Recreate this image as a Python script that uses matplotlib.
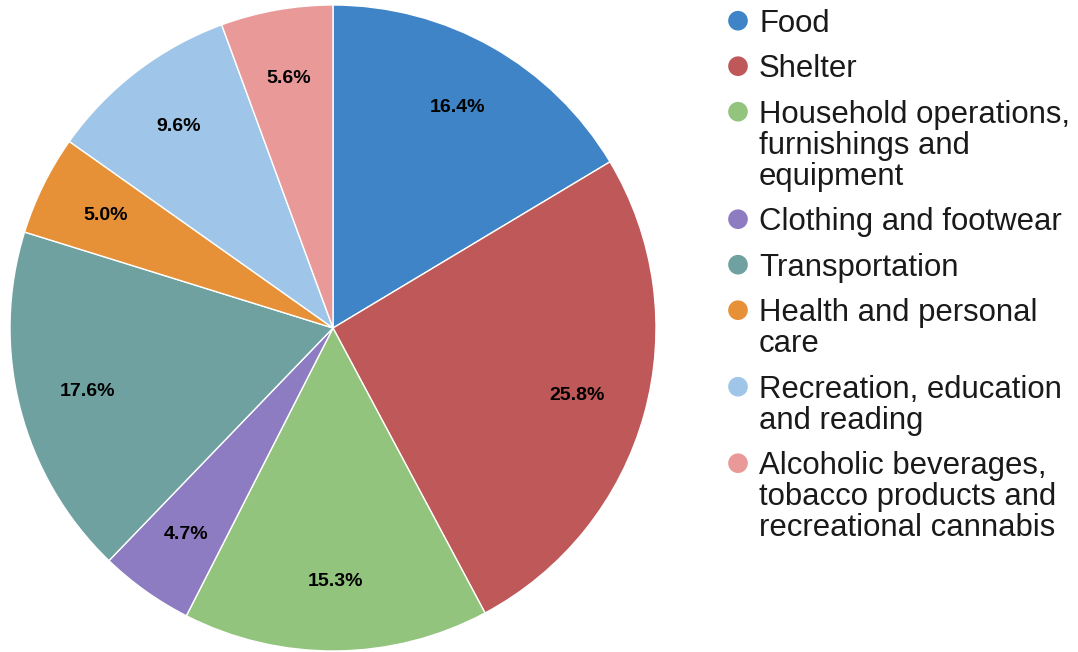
import matplotlib.pyplot as plt

plt.rcParams['font.family'] = ['Liberation Sans', 'DejaVu Sans']

# Доли расходов, %
categories = ['Food', 'Shelter', 'Household operations,\nfurnishings and\nequipment',
              'Clothing and footwear', 'Transportation', 'Health and personal\ncare',
              'Recreation, education\nand reading',
              'Alcoholic beverages,\ntobacco products and\nrecreational cannabis']
shares = [16.4, 25.8, 15.3, 4.7, 17.6, 5.0, 9.6, 5.6]
colors = ['#3E84C6', '#BF5858', '#93C47D', '#8E7CC3', '#6FA1A1', '#E69138', '#9FC5E8', '#EA9999']

W, H = 1078, 652
fig = plt.figure(figsize=(W / 100, H / 100), dpi=100)

# Круговая диаграмма
R = 323
cx, cy = 333, 328
ax = fig.add_axes([(cx - R) / W, (H - cy - R) / H, 2 * R / W, 2 * R / H])
wedges, texts, autotexts = ax.pie(shares, colors=colors, startangle=90, counterclock=False,
                                  autopct='%.1f%%', pctdistance=0.785, radius=1,
                                  wedgeprops=dict(edgecolor='white', linewidth=1))
for t in autotexts:
    t.set_fontsize(14)
    t.set_fontweight('bold')
    t.set_color('black')
ax.set_xlim(-1, 1)
ax.set_ylim(-1, 1)
ax.set_aspect('equal')

# Легенда вручную, в пикселях
lg = fig.add_axes([0, 0, 1, 1])
lg.set_xlim(0, W)
lg.set_ylim(H, 0)
lg.axis('off')

line_step = 31
entry_step = 45.5
y = 31.7
for label, c in zip(categories, colors):
    lines = label.split('\n')
    lg.scatter(738, y - 11, s=200, color=c, edgecolors='none')
    for i, ln in enumerate(lines):
        lg.text(759, y + i * line_step, ln, fontsize=22.4, va='baseline', ha='left', color='#1a1a1a')
    y += (len(lines) - 1) * line_step + entry_step

fig.savefig('out.png', dpi=100)
